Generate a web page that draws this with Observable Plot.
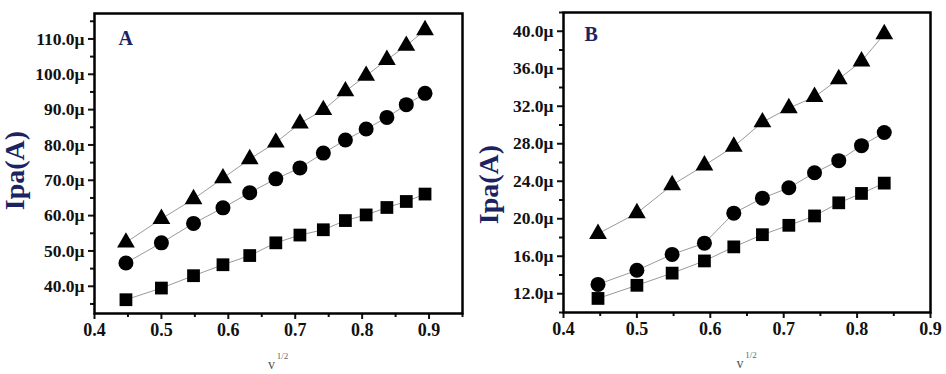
<!DOCTYPE html>
<html>
<head>
<meta charset="utf-8">
<script src="https://cdn.jsdelivr.net/npm/d3@7"></script>
<script src="https://cdn.jsdelivr.net/npm/@observablehq/plot@0.6"></script>
<style>
  html, body { margin: 0; padding: 0; background: #fff; }
  #wrap { display: flex; width: 946px; height: 374px; }
  #wrap svg { display: block; }
</style>
</head>
<body>
<div id="wrap"></div>
<script>
// Panel A data (current in µA vs square root of scan rate)
const xA = [0.447, 0.5, 0.548, 0.592, 0.632, 0.671, 0.707, 0.742, 0.775, 0.806, 0.837, 0.866, 0.894];
const triA = [52.4, 59.1, 64.7, 70.6, 76.0, 80.7, 86.1, 89.9, 95.2, 99.6, 104.1, 108.1, 112.5];
const cirA = [46.6, 52.3, 57.8, 62.2, 66.5, 70.4, 73.5, 77.7, 81.4, 84.5, 87.8, 91.4, 94.6];
const sqA  = [36.2, 39.5, 43.0, 46.1, 48.7, 52.3, 54.5, 56.0, 58.6, 60.2, 62.3, 64.0, 66.1];
const yTicksA = [40, 50, 60, 70, 80, 90, 100, 110];
const yMinorA = [35, 45, 55, 65, 75, 85, 95, 105, 115];

// Panel B data
const xB = [0.447, 0.5, 0.548, 0.592, 0.632, 0.671, 0.707, 0.742, 0.775, 0.806, 0.837];
const triB = [18.4, 20.6, 23.6, 25.7, 27.7, 30.3, 31.8, 33.0, 34.9, 36.8, 39.7];
const cirB = [13.0, 14.5, 16.2, 17.4, 20.6, 22.2, 23.3, 24.9, 26.2, 27.8, 29.2];
const sqB  = [11.5, 12.9, 14.2, 15.5, 17.0, 18.3, 19.3, 20.3, 21.7, 22.7, 23.8];
const yTicksB = [12, 16, 20, 24, 28, 32, 36, 40];
const yMinorB = [10, 14, 18, 22, 26, 30, 34, 38, 42];

const xTicks = [0.4, 0.5, 0.6, 0.7, 0.8, 0.9];
const xMinor = [0.45, 0.55, 0.65, 0.75, 0.85, 0.95];

const yTitle = "Ipa(A)";
const xTitle = "v";
const xTitleSup = "1/2";

function pts(xs, ys) { return xs.map((x, i) => ({x, y: ys[i]})); }

function panel(cfg) {
  const tri = pts(cfg.xs, cfg.tri), cir = pts(cfg.xs, cfg.cir), sq = pts(cfg.xs, cfg.sq);
  const lineOpts = {x: "x", y: "y", stroke: "#9a9a9a", strokeWidth: 1};
  const titleFont = {fontFamily: "Liberation Serif", fontWeight: "bold"};
  return Plot.plot({
    width: 473,
    height: 374,
    marginLeft: cfg.ml,
    marginRight: cfg.mr,
    marginTop: cfg.mt,
    marginBottom: 374 - cfg.fb,
    style: {fontFamily: "Liberation Serif", fontSize: "17px", fontWeight: "bold", color: "#111", background: "#fff"},
    x: {domain: cfg.xDomain},
    y: {domain: cfg.yDomain},
    marks: [
      Plot.axisX({ticks: xMinor.filter(v => v <= cfg.xDomain[1]), tickSize: 4, strokeWidth: 2, tickFormat: () => "", label: null}),
      Plot.axisX({ticks: xTicks, tickSize: 6, strokeWidth: 2, tickPadding: 4, tickFormat: d => d.toFixed(1), label: null, fontSize: 18}),
      Plot.axisY({ticks: cfg.yMinor.filter(v => v >= cfg.yDomain[0] && v <= cfg.yDomain[1]), tickSize: 4, strokeWidth: 2, tickFormat: () => "", label: null}),
      Plot.axisY({ticks: cfg.yTicks, tickSize: 6, strokeWidth: 2, tickPadding: 4, tickFormat: d => d.toFixed(1) + "μ", label: null, fontSize: 17.5}),
      Plot.frame({stroke: "#000", strokeWidth: 2.5}),
      Plot.line(tri, lineOpts),
      Plot.line(cir, lineOpts),
      Plot.line(sq, lineOpts),
      Plot.dot(tri, {x: "x", y: "y", symbol: "triangle", r: 6.6, fill: "#000"}),
      Plot.dot(cir, {x: "x", y: "y", symbol: "circle", r: 7.5, fill: "#000"}),
      Plot.dot(sq, {x: "x", y: "y", symbol: "square", r: 7.2, fill: "#000"}),
      Plot.text([cfg.tag], {frameAnchor: "top-left", dx: cfg.tagDx, dy: cfg.tagDy, textAnchor: "start", lineAnchor: "middle", fontSize: 20, fill: "#1c2362", ...titleFont}),
      Plot.text([yTitle], {frameAnchor: "left", dx: cfg.ytDx, dy: cfg.ytDy, rotate: -90, textAnchor: "middle", lineAnchor: "middle", fontSize: 28, fill: "#1c2362", ...titleFont}),
      Plot.text([xTitle], {frameAnchor: "bottom", dx: -7, dy: 51, lineAnchor: "middle", fontSize: 14, fontWeight: "normal", fill: "#555", fontFamily: "Liberation Serif"}),
      Plot.text([xTitleSup], {frameAnchor: "bottom", dx: 4, dy: 43, lineAnchor: "middle", fontSize: 9, fontWeight: "normal", fill: "#666", fontFamily: "Liberation Serif"})
    ]
  });
}

const wrap = document.getElementById("wrap");
wrap.appendChild(panel({
  xs: xA, tri: triA, cir: cirA, sq: sqA,
  xDomain: [0.4, 0.95], yDomain: [32.3, 117.2],
  yTicks: yTicksA, yMinor: yMinorA,
  ml: 94, mr: 11, mt: 13, fb: 313,
  tag: "A", tagDx: 24, tagDy: 25,
  ytDx: -79, ytDy: 7
}));
wrap.appendChild(panel({
  xs: xB, tri: triB, cir: cirB, sq: sqB,
  xDomain: [0.4, 0.9], yDomain: [10, 42],
  yTicks: yTicksB, yMinor: yMinorB,
  ml: 90, mr: 16, mt: 12, fb: 312,
  tag: "B", tagDx: 21, tagDy: 22,
  ytDx: -74, ytDy: 22
}));
</script>
</body>
</html>
